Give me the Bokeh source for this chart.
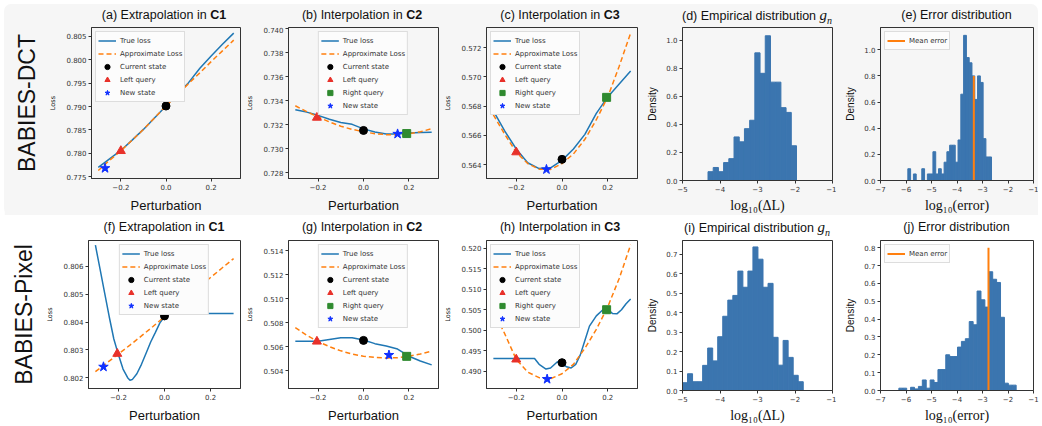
from bokeh.plotting import figure
from bokeh.models import Range1d, FixedTicker, Title, Div
from bokeh.layouts import row, column
from bokeh.embed import file_html
from bokeh.resources import INLINE

# ---------------------------------------------------------------- data
perturb_x = [-0.3, -0.25, -0.2, -0.15, -0.1, -0.05, 0.0, 0.05, 0.1, 0.15, 0.2, 0.25, 0.3]

# (a) Extrapolation in C1, BABIES-DCT
a_true = [0.7770, 0.7788, 0.7806, 0.7828, 0.7851, 0.7876, 0.7901, 0.7926, 0.7951, 0.7982, 0.8008, 0.8033, 0.8057]
a_approx = [0.7763, 0.7785, 0.7805, 0.7828, 0.7851, 0.7876, 0.7901, 0.7925, 0.7949, 0.7972, 0.7996, 0.8019, 0.8042]
a_current = [0.0, 0.7901]
a_left = [-0.2, 0.7805]
a_new = [-0.27, 0.7768]

# (b) Interpolation in C2, BABIES-DCT
b_true = [0.73323, 0.73304, 0.73277, 0.73245, 0.73218, 0.73202, 0.73164, 0.73138, 0.73122, 0.73122, 0.73130, 0.73133, 0.73135]
b_approx = [0.73357, 0.73308, 0.73264, 0.73222, 0.73186, 0.73160, 0.73140, 0.73124, 0.73116, 0.73115, 0.73124, 0.73140, 0.73165]
b_current = [0.0, 0.73151]
b_left = [-0.205, 0.73258]
b_right = [0.19, 0.73125]
b_new = [0.15, 0.73122]

# (c) Interpolation in C3, BABIES-DCT
c_true = [0.56767, 0.56629, 0.56507, 0.56413, 0.56373, 0.56378, 0.56429, 0.56507, 0.56607, 0.56751, 0.56863, 0.56951, 0.57040]
c_approx = [0.56740, 0.56607, 0.56485, 0.56407, 0.56369, 0.56367, 0.56407, 0.56473, 0.56573, 0.56707, 0.56863, 0.57073, 0.57300]
c_current = [0.0, 0.56436]
c_left = [-0.2, 0.56485]
c_right = [0.195, 0.56860]
c_new = [-0.068, 0.56367]

# (f) Extrapolation in C1, BABIES-Pixel
f_true_x = [-0.3, -0.28, -0.26, -0.24, -0.22, -0.2, -0.18, -0.16, -0.15, -0.14, -0.12, -0.1,
            -0.08, -0.06, -0.04, -0.02, 0.0, 0.01, 0.3]
f_true = [0.80676, 0.80591, 0.80505, 0.80419, 0.80339, 0.80282, 0.80231, 0.80200, 0.80191, 0.80193,
          0.80214, 0.80248, 0.80288, 0.80328, 0.80362, 0.80397, 0.80419, 0.80431, 0.80431]
f_approx = [0.80222, 0.80253, 0.80285, 0.80317, 0.80350, 0.80384, 0.80419, 0.80454, 0.80490, 0.80525, 0.80560, 0.80594, 0.80628]
f_current = [0.0, 0.80422]
f_left = [-0.205, 0.80286]
f_new = [-0.265, 0.80239]

# (g) Interpolation in C2, BABIES-Pixel
g_true = [0.50645, 0.50645, 0.50645, 0.50660, 0.50675, 0.50675, 0.50655, 0.50625, 0.50605, 0.50580, 0.50520, 0.50480, 0.50448]
g_approx = [0.50758, 0.50695, 0.50643, 0.50600, 0.50565, 0.50538, 0.50520, 0.50510, 0.50505, 0.50508, 0.50520, 0.50538, 0.50562]
g_current = [0.0, 0.50652]
g_left = [-0.205, 0.50643]
g_right = [0.19, 0.50519]
g_new = [0.112, 0.50530]

# (h) Interpolation in C3, BABIES-Pixel
h_true_x = [-0.3, -0.12, -0.1, -0.07, -0.05, -0.02, 0.0, 0.02, 0.04, 0.06, 0.08, 0.1, 0.12,
            0.15, 0.18, 0.2, 0.22, 0.24, 0.26, 0.28, 0.3]
h_true = [0.4931, 0.4931, 0.4917, 0.49054, 0.4908, 0.49233, 0.49186, 0.4911, 0.4908, 0.4917, 0.4940,
          0.4975, 0.5010, 0.5035, 0.50504, 0.5051, 0.5041, 0.5040, 0.5050, 0.50644, 0.5076]
h_approx = [0.5049, 0.4991, 0.4929, 0.4898, 0.48845, 0.4882, 0.4894, 0.4917, 0.4956, 0.5002, 0.5057, 0.5126, 0.5208]
h_current = [0.0, 0.4921]
h_left = [-0.2, 0.4929]
h_right = [0.195, 0.5050]
h_new = [-0.065, 0.4881]

# (d) Empirical distribution, BABIES-DCT
d_edges = [-4.320, -4.181, -4.042, -3.904, -3.765, -3.626, -3.487, -3.348, -3.209, -3.071,
           -2.932, -2.793, -2.654, -2.515, -2.376, -2.238, -2.099, -1.960]
d_density = [0.063, 0.093, 0.063, 0.128, 0.156, 0.311, 0.276, 0.370, 0.430, 0.911,
             0.765, 1.033, 0.702, 0.702, 0.520, 0.486, 0.248]

# (e) Error distribution, BABIES-DCT
e_edges = [-5.928, -5.819, -5.709, -5.600, -5.491, -5.381, -5.272, -5.162, -5.053, -4.944,
           -4.834, -4.725, -4.616, -4.506, -4.397, -4.288, -4.178, -4.069, -3.959, -3.850,
           -3.741, -3.631, -3.522, -3.413, -3.303, -3.194, -3.084, -2.975, -2.866, -2.756, -2.647]
e_density = [0.09, 0.0, 0.05, 0.0, 0.0, 0.09, 0.0, 0.05, 0.05, 0.22,
             0.05, 0.09, 0.05, 0.14, 0.22, 0.27, 0.27, 0.14, 0.31, 0.66,
             1.11, 0.94, 0.90, 0.80, 0.62, 0.80, 0.75, 0.32, 0.18, 0.18]
e_mean = -3.34
e_mean_height = 0.80

# (i) Empirical distribution, BABIES-Pixel
i_edges = [-5.000, -4.866, -4.732, -4.598, -4.463, -4.329, -4.195, -4.061, -3.927, -3.792,
           -3.658, -3.524, -3.390, -3.256, -3.122, -2.988, -2.853, -2.719, -2.585, -2.451,
           -2.317, -2.183, -2.048, -1.914, -1.780]
i_density = [0.040, 0.086, 0.045, 0.045, 0.129, 0.218, 0.152, 0.276, 0.381, 0.464,
             0.488, 0.613, 0.530, 0.613, 0.737, 0.674, 0.530, 0.550, 0.273, 0.130,
             0.257, 0.170, 0.078, 0.045]

# (j) Error distribution, BABIES-Pixel
j_edges = [-6.280, -6.127, -5.973, -5.820, -5.667, -5.513, -5.360, -5.207, -5.053, -4.900,
           -4.747, -4.593, -4.440, -4.287, -4.133, -3.980, -3.827, -3.673, -3.520, -3.367,
           -3.213, -3.060, -2.907, -2.753, -2.600, -2.447, -2.293, -2.140, -1.987, -1.833, -1.680]
j_density = [0.013, 0.013, 0.0, 0.018, 0.009, 0.023, 0.059, 0.013, 0.059, 0.045,
             0.117, 0.117, 0.200, 0.190, 0.190, 0.243, 0.275, 0.290, 0.386, 0.368,
             0.557, 0.508, 0.467, 0.665, 0.623, 0.605, 0.410, 0.041, 0.030, 0.030]
j_mean = -2.765
j_mean_height = 0.80

# ticks
loss_xticks = [-0.2, 0.0, 0.2]
loss_xlabels = ["\u22120.2", "0.0", "0.2"]
a_yticks = [0.775, 0.78, 0.785, 0.79, 0.795, 0.8, 0.805]
a_ylabels = ["0.775", "0.780", "0.785", "0.790", "0.795", "0.800", "0.805"]
b_yticks = [0.728, 0.73, 0.732, 0.734, 0.736, 0.738, 0.74]
b_ylabels = ["0.728", "0.730", "0.732", "0.734", "0.736", "0.738", "0.740"]
c_yticks = [0.564, 0.566, 0.568, 0.57, 0.572]
c_ylabels = ["0.564", "0.566", "0.568", "0.570", "0.572"]
f_yticks = [0.802, 0.803, 0.804, 0.805, 0.806]
f_ylabels = ["0.802", "0.803", "0.804", "0.805", "0.806"]
g_yticks = [0.504, 0.506, 0.508, 0.51, 0.512, 0.514]
g_ylabels = ["0.504", "0.506", "0.508", "0.510", "0.512", "0.514"]
h_yticks = [0.49, 0.495, 0.5, 0.505, 0.51, 0.515, 0.52]
h_ylabels = ["0.490", "0.495", "0.500", "0.505", "0.510", "0.515", "0.520"]
dens_yticks = [0.0, 0.2, 0.4, 0.6, 0.8, 1.0]
dens_ylabels = ["0.0", "0.2", "0.4", "0.6", "0.8", "1.0"]
i_yticks = [0.0, 0.1, 0.2, 0.3, 0.4, 0.5, 0.6, 0.7]
i_ylabels = ["0.0", "0.1", "0.2", "0.3", "0.4", "0.5", "0.6", "0.7"]
j_yticks = [0.0, 0.1, 0.2, 0.3, 0.4, 0.5, 0.6, 0.7, 0.8]
j_ylabels = ["0.0", "0.1", "0.2", "0.3", "0.4", "0.5", "0.6", "0.7", "0.8"]
dl_xticks = [-5, -4, -3, -2, -1]
dl_xlabels = ["\u22125", "\u22124", "\u22123", "\u22122", "\u22121"]
err_xticks = [-7, -6, -5, -4, -3, -2, -1]
err_xlabels = ["\u22127", "\u22126", "\u22125", "\u22124", "\u22123", "\u22122", "\u22121"]

row_labels = ["BABIES-DCT", "BABIES-Pixel"]
GN = "<span style=\"font-family:'Liberation Serif';font-style:italic;font-size:15px\">g<sub style='font-size:10px'>n</sub></span>"
titles_top = ["(a) Extrapolation in <b>C1</b>", "(b) Interpolation in <b>C2</b>",
              "(c) Interpolation in <b>C3</b>", "(d) Empirical distribution " + GN,
              "(e) Error distribution"]
titles_bot = ["(f) Extrapolation in <b>C1</b>", "(g) Interpolation in <b>C2</b>",
              "(h) Interpolation in <b>C3</b>", "(i) Empirical distribution " + GN,
              "(j) Error distribution"]

# ---------------------------------------------------------------- style
BG1 = "#f6f6f6"
BG2 = "#ffffff"
BLUE = "#1f77b4"
ORANGE = "#ff7f0e"
HIST = "#3b75af"
RED = "#e8312a"
GREEN = "#2f8a2f"
STAR = "#1030ff"
INK = "#333333"

ROWS = {
    1: dict(W=[239, 198, 199, 196, 202], MBL=[84, 43, 42, 42, 44], MBR=[3, 3, 3, 4, 5],
            H=189, MBT=1, MBB=33, BG=BG1, DIV_H=22),
    2: dict(W=[243, 198, 199, 196, 206], MBL=[88, 43, 42, 42, 44], MBR=[3, 3, 3, 4, 9],
            H=185, MBT=0, MBB=31, BG=BG2, DIV_H=25),
}
LOSS_XR = (-0.33, 0.33)


def base_fig(r, k, xr, yr):
    R = ROWS[r]
    p = figure(width=R["W"][k], height=R["H"], x_range=Range1d(*xr), y_range=Range1d(*yr),
               output_backend="svg", toolbar_location=None, tools="", title=None,
               min_border_left=R["MBL"][k], min_border_right=R["MBR"][k],
               min_border_top=R["MBT"], min_border_bottom=R["MBB"],
               background_fill_color=R["BG"], border_fill_color=R["BG"],
               outline_line_color=INK, outline_line_width=1)
    p.grid.visible = False
    return p


def style_axes(p, xt, xl, yt, yl, xlabel, ylabel, hist):
    for ax, t, l in ((p.xaxis[0], xt, xl), (p.yaxis[0], yt, yl)):
        ax.ticker = FixedTicker(ticks=t)
        ax.major_label_overrides = dict(zip(t, l))
        ax.major_label_text_font = "DejaVu Sans"
        ax.major_label_text_font_size = "7px"
        ax.major_label_text_color = INK
        ax.major_tick_line_color = INK
        ax.major_tick_out = 3
        ax.major_tick_in = 0
        ax.minor_tick_line_color = None
        ax.axis_line_color = INK
        ax.major_label_standoff = 2
        ax.axis_label_text_font_style = "normal"
        ax.axis_label_text_color = "#111111"
    p.xaxis.axis_label = xlabel
    p.yaxis.axis_label = ylabel
    if hist:
        p.xaxis.axis_label_standoff = 3
        p.xaxis.axis_label_text_font = "Liberation Serif"
        p.xaxis.axis_label_text_font_size = "14px"
        p.yaxis.axis_label_text_font = "Liberation Sans"
        p.yaxis.axis_label_text_font_size = "10px"
        p.yaxis.axis_label_standoff = 5
    else:
        p.xaxis.axis_label_standoff = 5
        p.xaxis.axis_label_text_font = "Liberation Sans"
        p.xaxis.axis_label_text_font_size = "13px"
        p.yaxis.axis_label_text_font = "DejaVu Sans"
        p.yaxis.axis_label_text_font_size = "6.5px"
        p.yaxis.axis_label_standoff = 6


def style_legend(p, loc):
    lg = p.legend[0]
    lg.location = loc
    lg.margin = 4
    lg.padding = 2
    lg.spacing = -2
    lg.glyph_width = 18
    lg.glyph_height = 13
    lg.label_height = 13
    lg.label_standoff = 4
    lg.label_text_font = "DejaVu Sans"
    lg.label_text_font_size = "7px"
    lg.label_text_color = INK
    lg.border_line_color = "#bdbdbd"
    lg.border_line_width = 1
    lg.background_fill_color = "#fcfcfc"
    lg.background_fill_alpha = 1.0


def loss_panel(r, k, yr, yt, yl, true_x, true_y, approx_y, cur, left, right, new, loc):
    p = base_fig(r, k, LOSS_XR, yr)
    p.line(true_x, true_y, line_color=BLUE, line_width=1.5, legend_label="True loss")
    p.line(perturb_x, approx_y, line_color=ORANGE, line_width=1.5, line_dash="5 3",
           legend_label="Approximate Loss")
    p.scatter([cur[0]], [cur[1]], marker="circle", size=8, color="black", legend_label="Current state")
    p.scatter([left[0]], [left[1]], marker="triangle", size=9, color=RED, legend_label="Left query")
    if right is not None:
        p.scatter([right[0]], [right[1]], marker="square", size=8, color=GREEN, legend_label="Right query")
    p.scatter([new[0]], [new[1]], marker="star", size=10, color=STAR, legend_label="New state")
    style_axes(p, loss_xticks, loss_xlabels, yt, yl, "Perturbation", "Loss", False)
    style_legend(p, loc)
    return p


def hist_panel(r, k, xr, yr, edges, dens, xt, xl, yt, yl, xlabel, mean=None, mean_h=None):
    p = base_fig(r, k, xr, yr)
    p.quad(left=edges[:-1], right=edges[1:], bottom=0, top=dens, fill_color=HIST,
           line_color=HIST, line_width=1.0)
    if mean is not None:
        p.segment(x0=[mean], y0=[0], x1=[mean], y1=[mean_h], line_color=ORANGE, line_width=2,
                  legend_label="Mean error")
        style_legend(p, "top_left")
    style_axes(p, xt, xl, yt, yl, xlabel, "Density", True)
    return p


def title_div(r, k, html):
    R = ROWS[r]
    w, h = R["W"][k], R["DIV_H"]
    inner = ("<div style=\"width:%dpx;height:%dpx;box-sizing:border-box;padding-left:%dpx;"
             "padding-right:%dpx;text-align:center;line-height:%dpx;font-family:'Liberation Sans';"
             "font-size:12.5px;color:#111;white-space:nowrap;\">%s</div>"
             % (w, h, R["MBL"][k], R["MBR"][k], h, html))
    return Div(text=inner, width=w, height=h, margin=0)


def row_label(p, text):
    t = Title(text=text, align="center", text_font="Liberation Sans", text_font_size="23px",
              text_font_style="normal", text_color="#111111", standoff=14)
    p.add_layout(t, "left")


# ---------------------------------------------------------------- panels
pa = loss_panel(1, 0, (0.7746, 0.8069), a_yticks, a_ylabels, perturb_x, a_true, a_approx,
                a_current, a_left, None, a_new, "top_left")
pb = loss_panel(1, 1, (0.7275, 0.7401), b_yticks, b_ylabels, perturb_x, b_true, b_approx,
                b_current, b_left, b_right, b_new, "top_center")
pc = loss_panel(1, 2, (0.56305, 0.57338), c_yticks, c_ylabels, perturb_x, c_true, c_approx,
                c_current, c_left, c_right, c_new, "top_left")
pd = hist_panel(1, 3, (-5, -1), (0, 1.092), d_edges, d_density, dl_xticks, dl_xlabels,
                dens_yticks, dens_ylabels, "log\u2081\u2080(\u0394L)")
pe = hist_panel(1, 4, (-7, -1), (0, 1.17), e_edges, e_density, err_xticks, err_xlabels,
                dens_yticks, dens_ylabels, "log\u2081\u2080(error)", e_mean, e_mean_height)

pf = loss_panel(2, 0, (0.80161, 0.80693), f_yticks, f_ylabels, f_true_x, f_true, f_approx,
                f_current, f_left, None, f_new, "top_center")
pg = loss_panel(2, 1, (0.50251, 0.51485), g_yticks, g_ylabels, perturb_x, g_true, g_approx,
                g_current, g_left, g_right, g_new, "top_center")
ph = loss_panel(2, 2, (0.48581, 0.52186), h_yticks, h_ylabels, h_true_x, h_true, h_approx,
                h_current, h_left, h_right, h_new, "top_left")
pi = hist_panel(2, 3, (-5, -1), (0, 0.77), i_edges, i_density, dl_xticks, dl_xlabels,
                i_yticks, i_ylabels, "log\u2081\u2080(\u0394L)")
pj = hist_panel(2, 4, (-7, -1), (0, 0.84), j_edges, j_density, err_xticks, err_xlabels,
                j_yticks, j_ylabels, "log\u2081\u2080(error)", j_mean, j_mean_height)

row_label(pa, row_labels[0])
row_label(pf, row_labels[1])

top_figs = [pa, pb, pc, pd, pe]
bot_figs = [pf, pg, ph, pi, pj]

row1 = row([column(title_div(1, k, titles_top[k]), top_figs[k]) for k in range(5)],
           styles={"background-color": BG1, "border-radius": "7px"}, margin=(4, 4, 0, 4))
row2 = row([column(title_div(2, k, titles_bot[k]), bot_figs[k]) for k in range(5)],
           styles={"background-color": BG2})
layout = column(row1, row2)

open("out.html", "w").write(file_html(layout, INLINE))
